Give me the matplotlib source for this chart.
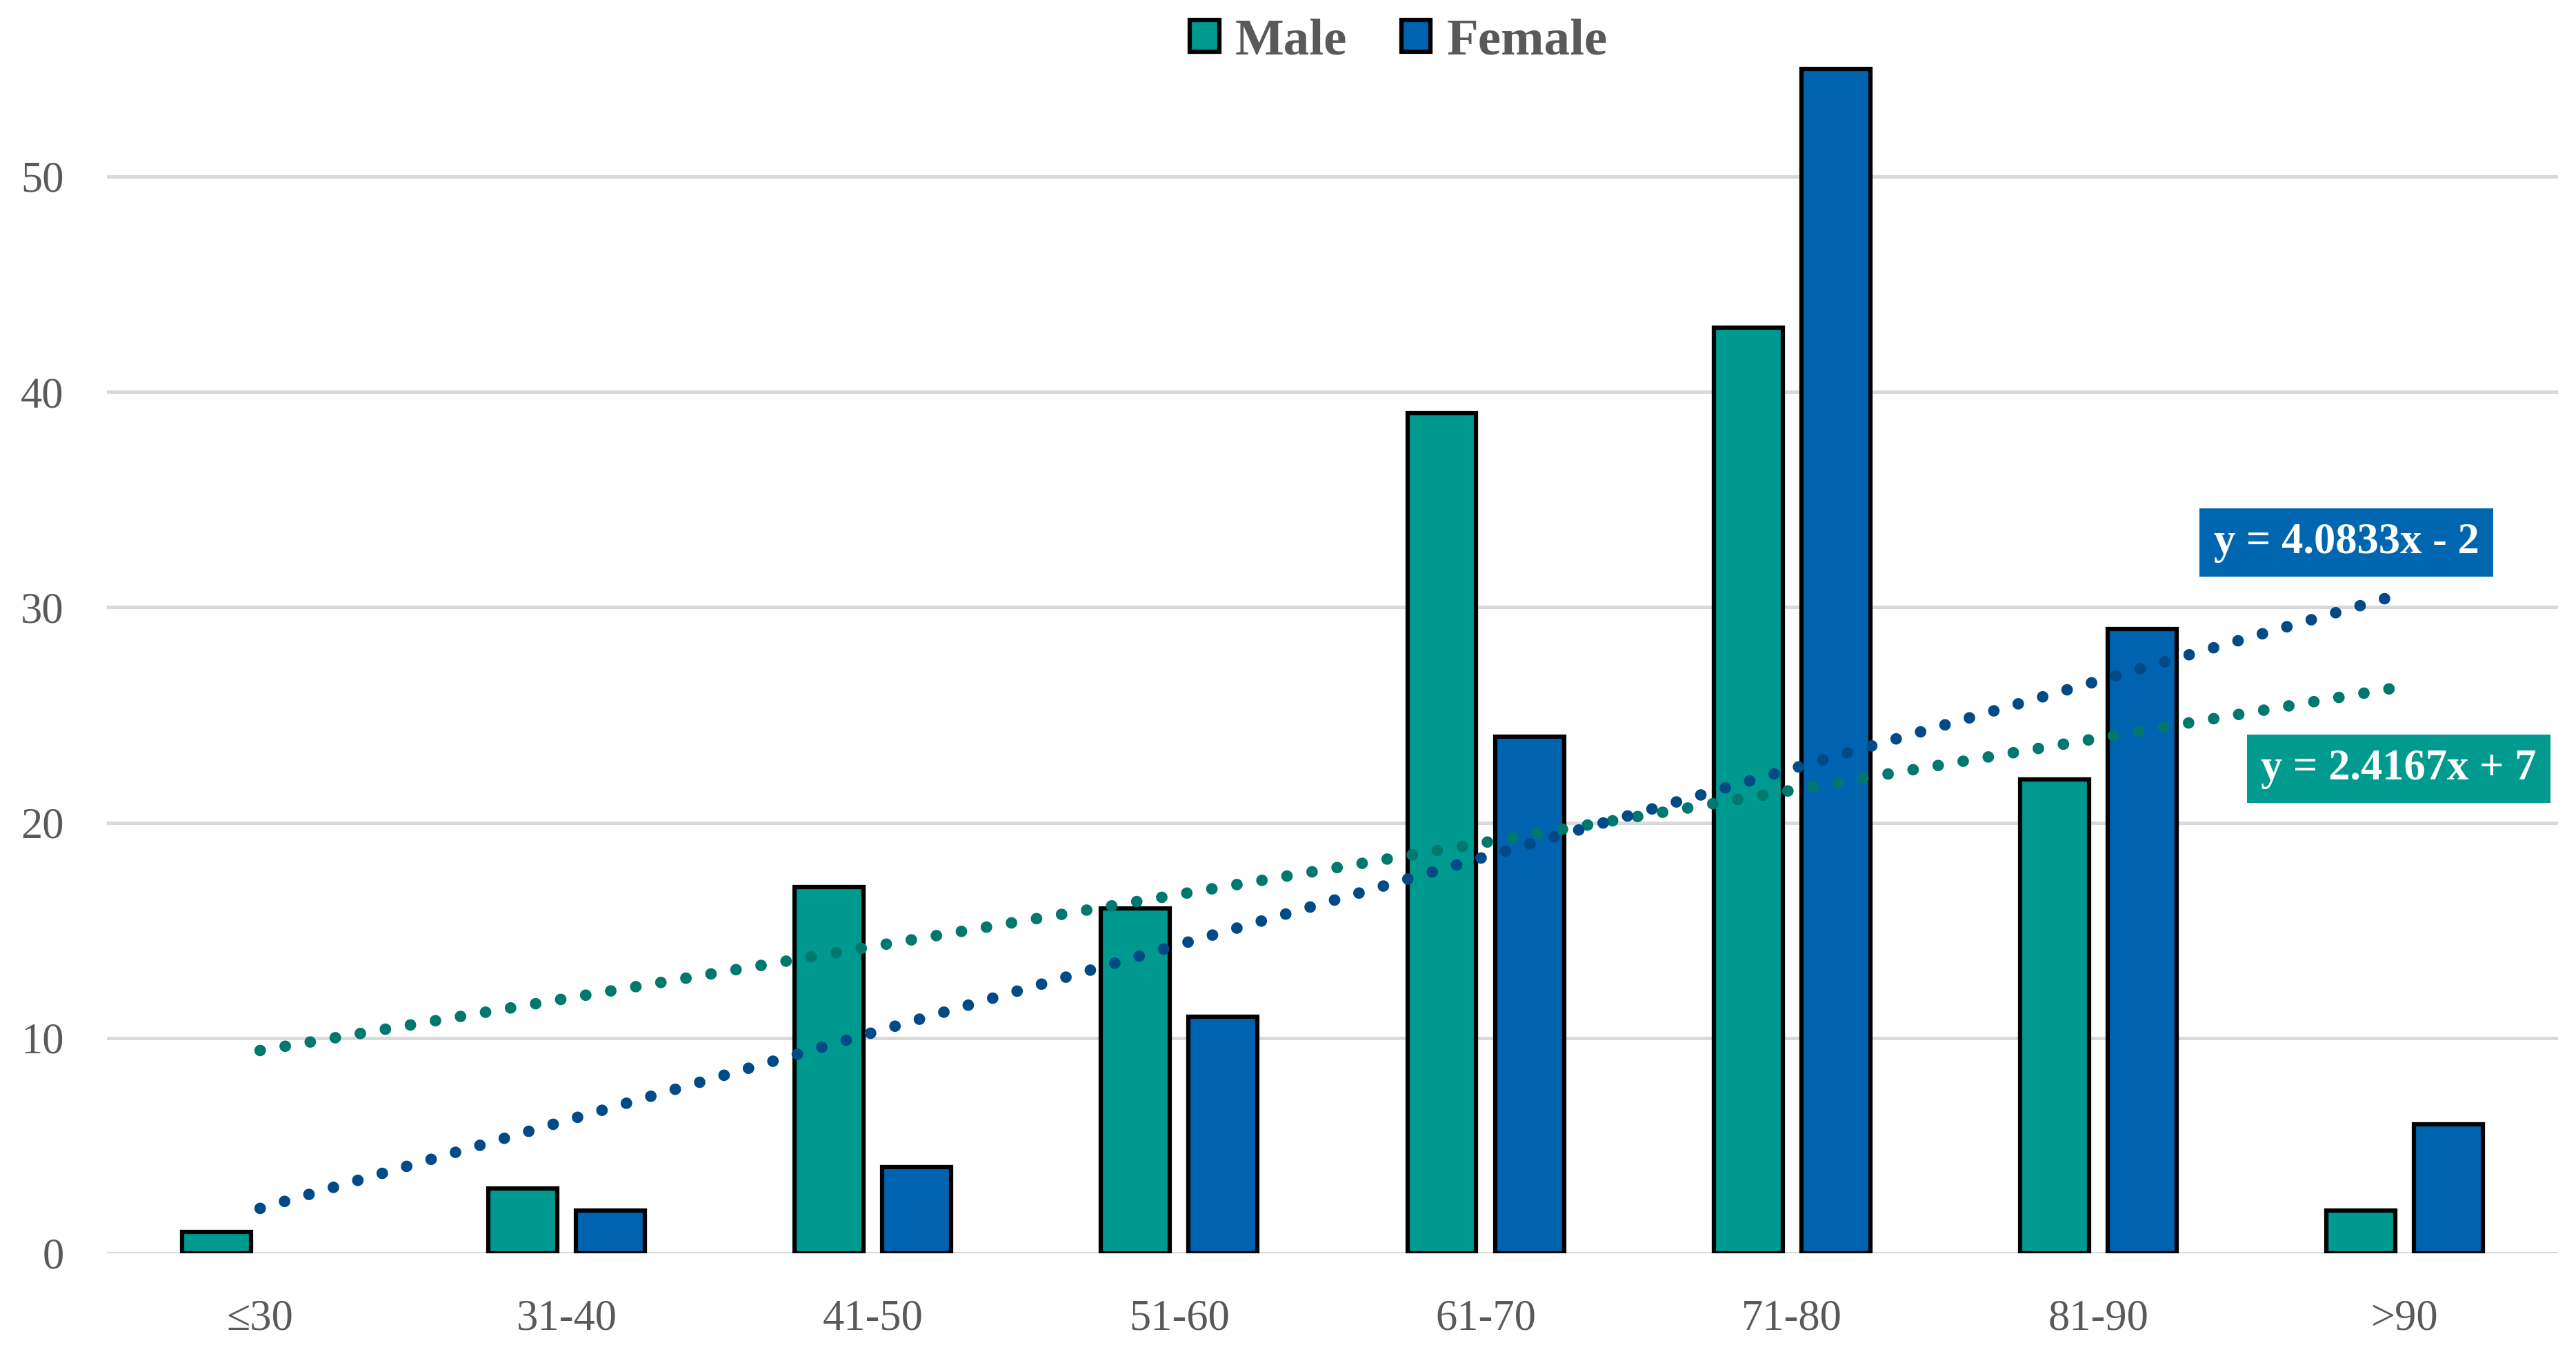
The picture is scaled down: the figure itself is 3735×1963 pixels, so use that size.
import numpy as np
import matplotlib
matplotlib.use("Agg")
import matplotlib.pyplot as plt
from matplotlib.patches import Patch

# данные
age_groups = ["≤30", "31-40", "41-50", "51-60", "61-70", "71-80", "81-90", ">90"]
male = [1, 3, 17, 16, 39, 43, 22, 2]
female = [0, 2, 4, 11, 24, 55, 29, 6]

male_color = "#00998F"
female_color = "#0063AF"
male_trend_color = "#00786E"
female_trend_color = "#004B87"
text_color = "#595959"

plt.rcParams["font.family"] = ["Liberation Serif", "DejaVu Serif"]

fig = plt.figure(figsize=(3735 / 300, 1963 / 300), dpi=300)
ax = fig.add_axes([0.0415, 0.0744, 0.9515, 0.9256])

x = np.arange(len(age_groups))
w = 0.225
off = 0.143

bars_m = ax.bar(x - off, male, w, color=male_color, edgecolor="black", linewidth=1.5, zorder=3)
bars_f = ax.bar(x + off, female, w, color=female_color, edgecolor="black", linewidth=1.5, zorder=3)
# у нулевых столбцов не рисуем обводку
for b in list(bars_m) + list(bars_f):
    if b.get_height() == 0:
        b.set_linewidth(0)

# линейные тренды (как в Excel: x = 1..8)
xn = x + 1
km, bm = np.polyfit(xn, male, 1)
kf, bf = np.polyfit(xn, female, 1)

dots = dict(linewidth=4.0, linestyle=(0, (0.01, 2.2)), dash_capstyle="round", zorder=4)
ax.plot(x, km * xn + bm, color=male_trend_color, **dots)
ax.plot(x, kf * xn + bf, color=female_trend_color, **dots)

def eq_text(k, b):
    sign = "+" if b >= 0 else "-"
    return f"y = {k:.4f}x {sign} {abs(round(b, 4)):g}"

ax.text(6.81, 33.0, eq_text(kf, bf), color="white", fontsize=15, fontweight="bold",
        ha="center", va="center", zorder=5,
        bbox=dict(boxstyle="square,pad=0.33", facecolor="#0066B0", edgecolor="none"))
ax.text(6.98, 22.5, eq_text(km, bm), color="white", fontsize=15, fontweight="bold",
        ha="center", va="center", zorder=5,
        bbox=dict(boxstyle="square,pad=0.33", facecolor="#009A8E", edgecolor="none"))

ax.set_xlim(-0.5, 7.5)
ax.set_ylim(0, 58.2)
ax.set_yticks([0, 10, 20, 30, 40, 50])
ax.set_xticks(x)
ax.set_xticklabels(age_groups)
ax.yaxis.grid(True, color="#D9D9D9", linewidth=1.2, zorder=0)
ax.set_axisbelow(True)
for s in ax.spines.values():
    s.set_visible(False)
ax.tick_params(axis="both", length=0, labelsize=15, labelcolor=text_color)
ax.tick_params(axis="y", pad=15)
ax.tick_params(axis="x", pad=16)

handles = [Patch(facecolor=male_color, edgecolor="black", linewidth=1.5, label="Male"),
           Patch(facecolor=female_color, edgecolor="black", linewidth=1.5, label="Female")]
leg = fig.legend(handles=handles, loc="center", bbox_to_anchor=(0.543, 0.969), ncol=2, frameon=False,
                 prop={"size": 18, "weight": "bold"}, handlelength=0.57, handleheight=0.57,
                 handletextpad=0.31, columnspacing=1.04)
for t in leg.get_texts():
    t.set_color(text_color)

fig.savefig("out.png", dpi=300)
